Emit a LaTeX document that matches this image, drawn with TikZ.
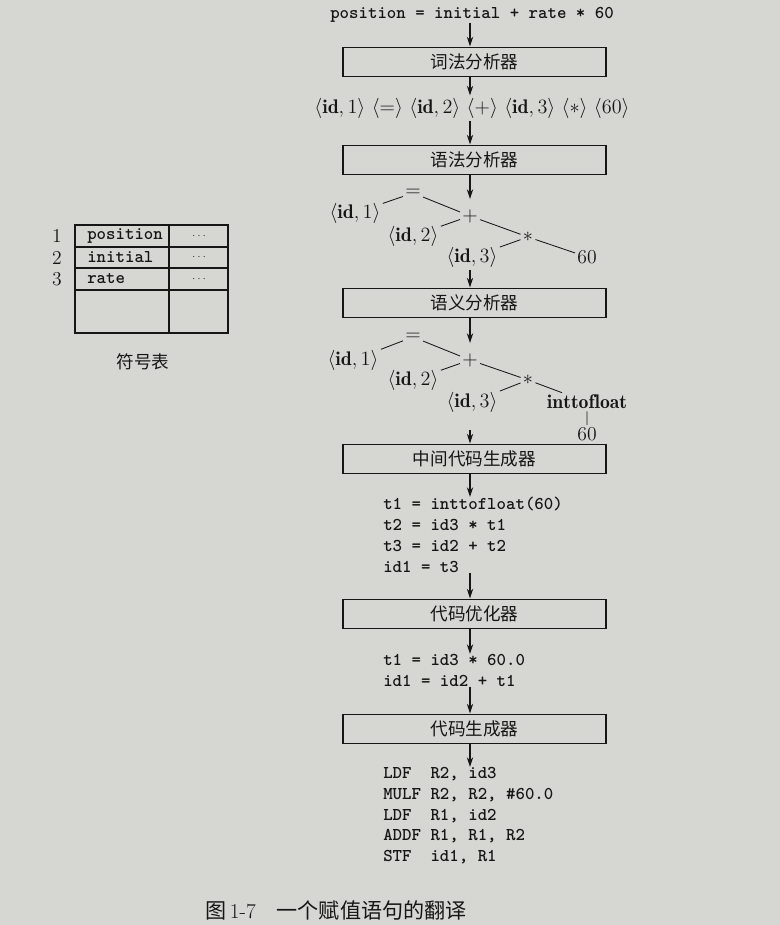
\documentclass[tikz,border=0pt]{standalone}
\usepackage{fontspec}
\newfontfamily\cjk{Noto Sans CJK SC}
\usetikzlibrary{arrows.meta}
\definecolor{paper}{RGB}{214,214,211}
\definecolor{ink}{RGB}{22,22,22}
\newcommand{\tokid}[1]{\langle\mathbf{id},#1\rangle}

\begin{document}
\begin{tikzpicture}[x=0.025cm, y=-0.025cm,
    every node/.style={font=\fontsize{14}{16}\selectfont, text=ink},
    phase/.style={draw=ink, line width=1.4pt, minimum width=6.575cm, minimum height=0.725cm,
      inner sep=0pt, font=\cjk\fontsize{12.5}{15}\selectfont},
    code/.style={font=\ttfamily\bfseries\fontsize{12.8}{14.8}\selectfont, align=left, inner sep=0pt},
    arr/.style={draw=ink, line width=0.8pt, -{Stealth[length=7pt,width=4.5pt]}},
    branch/.style={draw=ink, line width=0.6pt},
    leaf/.style={inner sep=1.5pt}]
  \useasboundingbox (0,0) rectangle (780,925);
  \fill[paper] (0,0) rectangle (780,925);
  \coordinate (ax) at (470,0);

  % Phases
  \node[code] (src) at (472,15) {position = initial + rate * 60};
  \node[phase] (lex) at (474.5,62) {词法分析器};
  \node[leaf] (toks) at (472,108) {$\tokid{1}\ \langle{=}\rangle\ \tokid{2}\ \langle{+}\rangle\ \tokid{3}\ \langle{*}\rangle\ \langle60\rangle$};
  \node[phase] (syn) at (474.5,160) {语法分析器};

  % Syntax tree
  \node[leaf] (eq1) at (413,193) {$=$};
  \node[leaf] (a11) at (355,213) {$\tokid{1}$};
  \node[leaf] (p1) at (470,216) {$+$};
  \node[leaf] (a12) at (413,236) {$\tokid{2}$};
  \node[leaf] (m1) at (528,237) {$*$};
  \node[leaf] (a13) at (472,257) {$\tokid{3}$};
  \node[leaf] (n1) at (587,257) {60};
  \draw[branch] (eq1) -- (a11) (eq1) -- (p1) (p1) -- (a12) (p1) -- (m1) (m1) -- (a13) (m1) -- (n1);

  \node[phase] (sem) at (474.5,303) {语义分析器};

  % Annotated tree
  \node[leaf] (eq2) at (413,337) {$=$};
  \node[leaf] (a21) at (353,360) {$\tokid{1}$};
  \node[leaf] (p2) at (470,360) {$+$};
  \node[leaf] (a22) at (413,380) {$\tokid{2}$};
  \node[leaf] (m2) at (528,380) {$*$};
  \node[leaf] (a23) at (472,402) {$\tokid{3}$};
  \node[leaf] (itf) at (587,402) {$\mathbf{inttofloat}$};
  \node[leaf] (n2) at (587,434) {60};
  \draw[branch] (eq2) -- (a21) (eq2) -- (p2) (p2) -- (a22) (p2) -- (m2) (m2) -- (a23) (m2) -- (itf) (itf) -- (n2);

  \node[phase] (icg) at (474.5,459) {中间代码生成器};
  \node[code, anchor=north west] (ir) at (383,497) {t1 = inttofloat(60)\\ t2 = id3 * t1\\ t3 = id2 + t2\\ id1 = t3};
  \node[phase] (opt) at (474.5,614) {代码优化器};
  \node[code, anchor=north west] (oir) at (383,654) {t1 = id3 * 60.0\\ id1 = id2 + t1};
  \node[phase] (gen) at (474.5,729) {代码生成器};
  \node[code, anchor=north west] (asm) at (383,767) {LDF\ \ R2, id3\\ MULF R2, R2, \#60.0\\ LDF\ \ R1, id2\\ ADDF R1, R1, R2\\ STF\ \ id1, R1};

  % Arrows
  \draw[arr] (src.south -| ax) -- (lex.north -| ax);
  \draw[arr] (lex.south -| ax) -- (toks.north -| ax);
  \draw[arr] (toks.south -| ax) -- (syn.north -| ax);
  \draw[arr] (syn.south -| ax) -- (eq1.south -| ax);
  \draw[arr] (a13.south -| ax) -- (sem.north -| ax);
  \draw[arr] (sem.south -| ax) -- (eq2.south -| ax);
  \draw[arr, shorten <=0.375cm] (a23.south -| ax) -- (icg.north -| ax);
  \draw[arr] (icg.south -| ax) -- (ir.north -| ax);
  \draw[arr] (ir.south -| ax) -- (opt.north -| ax);
  \draw[arr] (opt.south -| ax) -- (oir.north -| ax);
  \draw[arr] (oir.south -| ax) -- (gen.north -| ax);
  \draw[arr] (gen.south -| ax) -- (asm.north -| ax);

  % Symbol table
  \draw[ink, line width=0.8pt] (75,225) rectangle (228,333);
  \foreach \y in {247,268,290}
    \draw[ink, line width=0.8pt] (75,\y) -- (228,\y);
  \draw[ink, line width=0.8pt] (169,225) -- (169,333);
  \foreach \i/\name/\y in {1/position/236,2/initial/257.5,3/rate/279} {
    \node (num\i) at (57,\y) {\i};
    \node[code, anchor=west] (sym\i) at (87,\y) {\name};
    \node[font=\fontsize{7}{8}\selectfont] (attr\i) at (199,\y) {$\cdots$};
  }
  \node[font=\cjk\fontsize{12.5}{15}\selectfont] (symtab) at (143,362) {符号表};

  % Caption
  \node[font=\fontsize{15}{18}\selectfont] (cap) at (336,910) {{\cjk 图}\,1-7\quad{\cjk 一个赋值语句的翻译}};
\end{tikzpicture}
\end{document}
